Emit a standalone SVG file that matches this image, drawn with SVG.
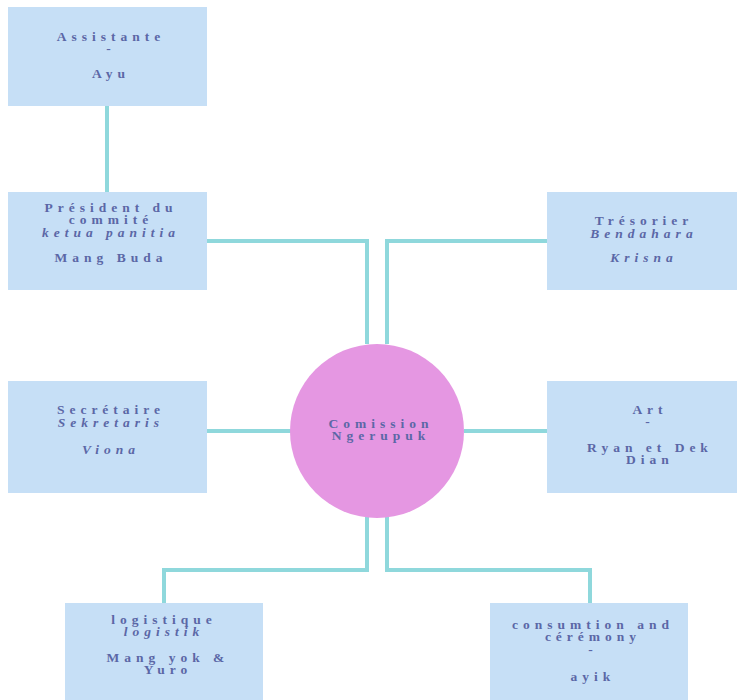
<svg xmlns="http://www.w3.org/2000/svg" width="737" height="700" viewBox="0 0 737 700">
  <style>
    .box { fill: #c6dff6; }
    .hub { fill: #e597e2; }
    .link { fill: none; stroke: #8fd8dc; stroke-width: 4; }
    text { font-family: "Liberation Serif", "Times New Roman", serif; font-weight: bold; font-size: 13.5px; letter-spacing: 5px; fill: #5b67a6; text-anchor: middle; }
    .it { font-style: italic; }
  </style>
  <rect width="737" height="700" fill="#ffffff"/>

  <g id="connectors">
    <path class="link" d="M107 106 V192"/>
    <path class="link" d="M207 241 H367 V344"/>
    <path class="link" d="M547 241 H387 V344"/>
    <path class="link" d="M207 431 H291"/>
    <path class="link" d="M464 431 H547"/>
    <path class="link" d="M367 517 V570 H164 V603"/>
    <path class="link" d="M387 517 V570 H590 V603"/>
  </g>

  <g id="assistante">
    <rect class="box" x="8" y="7" width="199" height="99"/>
    <text x="111" y="41">Assistante</text>
    <text x="111" y="53">-</text>
    <text x="111" y="78">Ayu</text>
  </g>

  <g id="president">
    <rect class="box" x="8" y="192" width="199" height="98"/>
    <text x="111" y="212">Président du</text>
    <text x="111" y="224">commité</text>
    <text x="111" y="237" class="it">ketua panitia</text>
    <text x="111" y="262">Mang Buda</text>
  </g>

  <g id="tresorier">
    <rect class="box" x="547" y="192" width="190" height="98"/>
    <text x="644" y="225">Trésorier</text>
    <text x="644" y="238" class="it">Bendahara</text>
    <text x="644" y="262" class="it">Krisna</text>
  </g>

  <g id="secretaire">
    <rect class="box" x="8" y="381" width="199" height="112"/>
    <text x="111" y="414">Secrétaire</text>
    <text x="111" y="427" class="it">Sekretaris</text>
    <text x="111" y="454" class="it">Viona</text>
  </g>

  <g id="comission">
    <circle class="hub" cx="377" cy="431" r="87"/>
    <text x="381" y="428">Comission</text>
    <text x="381" y="440">Ngerupuk</text>
  </g>

  <g id="art">
    <rect class="box" x="547" y="381" width="190" height="112"/>
    <text x="650" y="414">Art</text>
    <text x="650" y="426">-</text>
    <text x="650" y="452">Ryan et Dek</text>
    <text x="650" y="464">Dian</text>
  </g>

  <g id="logistique">
    <rect class="box" x="65" y="603" width="198" height="97"/>
    <text x="164" y="624">logistique</text>
    <text x="164" y="636" class="it">logistik</text>
    <text x="168" y="662">Mang yok &amp;</text>
    <text x="168" y="674">Yuro</text>
  </g>

  <g id="consumtion">
    <rect class="box" x="490" y="603" width="198" height="97"/>
    <text x="593" y="629">consumtion and</text>
    <text x="593" y="641">cérémony</text>
    <text x="593" y="654">-</text>
    <text x="593" y="681">ayik</text>
  </g>
</svg>
